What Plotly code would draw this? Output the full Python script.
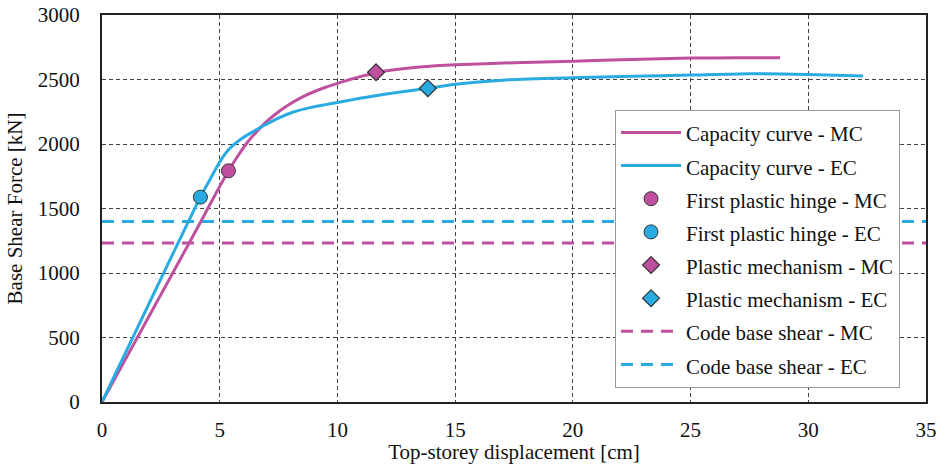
import plotly.graph_objects as go

# ---------------- data ----------------
mc_x = [0, 3.74, 5.37, 5.8, 6.12, 6.5, 7.0, 7.5, 8.0, 8.5, 9.0, 9.5, 10.0, 10.54,
        11.0, 11.64, 12.5, 13.5, 15.0, 17.5, 20.0, 22.5, 25.0, 27.0, 28.8]
mc_y = [0, 1245, 1792, 1915, 2000, 2082, 2175, 2250, 2312, 2364, 2405, 2440, 2470, 2500,
        2524, 2553, 2578, 2597, 2614, 2630, 2642, 2656, 2666, 2668, 2668]

ec_x = [0, 4.18, 4.59, 5.0, 5.3, 5.6, 6.0, 6.36, 7.0, 7.42, 8.13, 8.84, 9.5, 10.0,
        10.54, 12.0, 13.84, 15.0, 17.0, 20.0, 22.5, 25.0, 27.5, 30.0, 32.33]
ec_y = [0, 1588, 1725, 1860, 1940, 1995, 2050, 2090, 2155, 2195, 2248, 2282, 2305, 2322,
        2340, 2385, 2432, 2463, 2495, 2513, 2525, 2534, 2544, 2539, 2528]

hinge_mc = (5.37, 1792)
hinge_ec = (4.18, 1588)
mech_mc = (11.64, 2556)
mech_ec = (13.84, 2432)
code_mc = 1232
code_ec = 1399

x_range = [0, 35]
y_range = [0, 3000]

names = ["Capacity curve - MC", "Capacity curve - EC",
         "First plastic hinge - MC", "First plastic hinge - EC",
         "Plastic mechanism - MC", "Plastic mechanism - EC",
         "Code base shear - MC", "Code base shear - EC"]

# ---------------- style ----------------
C_MC = "#BE509F"
C_EC = "#29ABE2"
FONT = "Liberation Serif, Times New Roman, serif"


def lg(t):
    return f'<span style="font-size:21px">{t}</span>'


fig = go.Figure()
fig.add_trace(go.Scatter(x=mc_x, y=mc_y, mode="lines", name=lg(names[0]),
                         line=dict(color=C_MC, width=3, shape="spline", smoothing=0.6)))
fig.add_trace(go.Scatter(x=ec_x, y=ec_y, mode="lines", name=lg(names[1]),
                         line=dict(color=C_EC, width=3, shape="spline", smoothing=0.6)))
fig.add_trace(go.Scatter(x=[hinge_mc[0]], y=[hinge_mc[1]], mode="markers", name=lg(names[2]),
                         marker=dict(symbol="circle", size=14, color=C_MC,
                                     line=dict(color="#333333", width=1))))
fig.add_trace(go.Scatter(x=[hinge_ec[0]], y=[hinge_ec[1]], mode="markers", name=lg(names[3]),
                         marker=dict(symbol="circle", size=14, color=C_EC,
                                     line=dict(color="#333333", width=1))))
fig.add_trace(go.Scatter(x=[mech_mc[0]], y=[mech_mc[1]], mode="markers", name=lg(names[4]),
                         marker=dict(symbol="diamond", size=13, color=C_MC,
                                     line=dict(color="#333333", width=1.2))))
fig.add_trace(go.Scatter(x=[mech_ec[0]], y=[mech_ec[1]], mode="markers", name=lg(names[5]),
                         marker=dict(symbol="diamond", size=13, color=C_EC,
                                     line=dict(color="#333333", width=1.2))))
fig.add_trace(go.Scatter(x=x_range, y=[code_mc, code_mc], mode="lines", name=lg(names[6]),
                         line=dict(color=C_MC, width=3, dash="12px,8px")))
fig.add_trace(go.Scatter(x=x_range, y=[code_ec, code_ec], mode="lines", name=lg(names[7]),
                         line=dict(color=C_EC, width=3, dash="12px,8px")))

axis_common = dict(
    showgrid=True, gridcolor="#444444", gridwidth=1, griddash="4px,3px",
    showline=True, linecolor="#222222", linewidth=2, mirror=True,
    zeroline=False, ticks="", automargin=False,
    tickfont=dict(family=FONT, size=21, color="#111111"),
)

fig.update_layout(
    width=940, height=464,
    margin=dict(l=102, r=14, t=15, b=62),
    paper_bgcolor="white", plot_bgcolor="white",
    font=dict(family=FONT, color="#111111"),
    showlegend=True,
    legend=dict(
        x=0.6226, y=0.755, xanchor="left", yanchor="top",
        bgcolor="white", bordercolor="#999999", borderwidth=1,
        font=dict(family=FONT, size=23.2, color="#111111"),
        itemwidth=60, tracegroupgap=0,
    ),
    xaxis=dict(range=x_range, dtick=5, tick0=0, ticklabelstandoff=8,
               title=dict(text="Top-storey displacement [cm]",
                          font=dict(family=FONT, size=21), standoff=6),
               **axis_common),
    yaxis=dict(range=y_range, dtick=500, tick0=0, tickformat="d", ticklabelstandoff=16,
               title=dict(text="Base Shear Force [kN]",
                          font=dict(family=FONT, size=21), standoff=9),
               **axis_common),
)

fig.write_html("out.html", config={"displayModeBar": False},
               post_script="document.body.style.margin='0';document.body.style.overflow='hidden';")
